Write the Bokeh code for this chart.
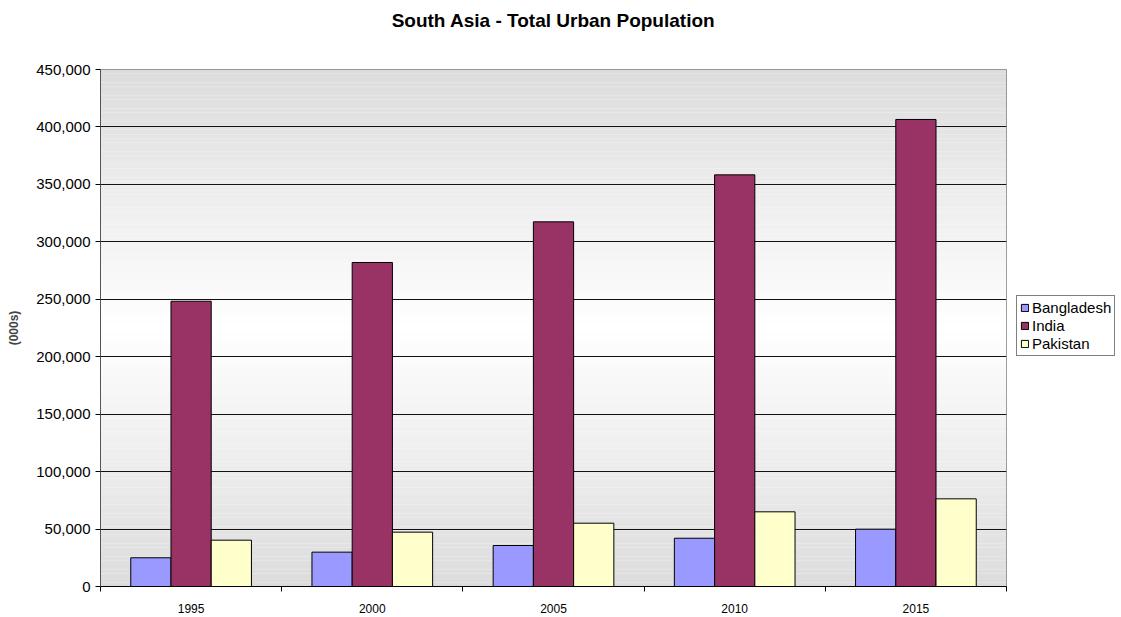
from bokeh.plotting import figure
from bokeh.models import (ColumnDataSource, Range1d, FixedTicker, NumeralTickFormatter,
                          Legend, LegendItem, Title)
from bokeh.transform import dodge
from bokeh.embed import file_html
from bokeh.resources import INLINE

years = ["1995", "2000", "2005", "2010", "2015"]
bangladesh = [25000, 29900, 35700, 42000, 49900]
india = [248300, 282000, 317400, 358300, 406500]
pakistan = [40300, 47300, 55100, 65000, 76300]
series_names = ["Bangladesh", "India", "Pakistan"]
series_colors = ["#9999FF", "#993366", "#FFFFCC"]
y_ticks = [0, 50000, 100000, 150000, 200000, 250000, 300000, 350000, 400000, 450000]

FONT = "Liberation Sans"

centers = [i + 0.5 for i in range(len(years))]
source = ColumnDataSource(dict(xc=centers, Bangladesh=bangladesh, India=india, Pakistan=pakistan))

p = figure(frame_width=906, frame_height=517, output_backend="svg", toolbar_location=None,
           x_range=Range1d(0, len(years)), y_range=Range1d(0, 450000),
           min_border_left=100, min_border_top=69, min_border_right=115,
           min_border_bottom=31, title="South Asia - Total Urban Population")

p.title.align = "center"
p.title.text_font = FONT
p.title.text_font_size = "19px"
p.title.text_font_style = "bold"
p.title.text_color = "black"
p.title.standoff = 15

# spacer between title and plot area
spacer = Title(text=" ", text_font=FONT, text_font_size="19px", standoff=8)
p.add_layout(spacer, "above")

# gradient background: gray - white - gray
n = 120
ymax = 450000
bottoms, tops, cols = [], [], []
for k in range(n):
    b = ymax * k / n
    t = ymax * (k + 1) / n
    frac = (k + 0.5) / n
    d = abs(frac - 0.5) * 2
    c = int(round(255 - 35 * d))
    bottoms.append(b)
    tops.append(t)
    cols.append("#%02x%02x%02x" % (c, c, c))
bg = p.quad(left=0, right=len(years), bottom=bottoms, top=tops, fill_color=cols, line_color=None)
bg.level = "image"

width = 0.222
offsets = [-width, 0.0, width]
renderers = []
for name, col, off in zip(series_names, series_colors, offsets):
    r = p.vbar(x=dodge("xc", off, range=p.x_range), top=name, width=width, bottom=0,
               source=source, fill_color=col, line_color="black", line_width=1)
    renderers.append(r)

# grid
p.xgrid.visible = False
p.ygrid.grid_line_color = "#111111"
p.ygrid.grid_line_width = 1
p.ygrid.ticker = FixedTicker(ticks=y_ticks)

p.outline_line_color = "#808080"
p.outline_line_width = 1
p.background_fill_color = "white"
p.border_fill_color = "white"

# y axis
p.yaxis.ticker = FixedTicker(ticks=y_ticks)
p.yaxis.formatter = NumeralTickFormatter(format="0,0")
p.yaxis.axis_label = "(000s)"
p.yaxis.axis_label_text_font = FONT
p.yaxis.axis_label_text_font_size = "12px"
p.yaxis.axis_label_text_font_style = "bold"
p.yaxis.axis_label_standoff = 12
p.yaxis.major_label_text_font = FONT
p.yaxis.major_label_text_font_size = "15px"
p.yaxis.major_label_text_color = "black"
p.yaxis.major_label_standoff = 5
p.yaxis.major_tick_out = 5
p.yaxis.major_tick_in = 0
p.yaxis.minor_tick_out = 0
p.yaxis.minor_tick_in = 0
p.yaxis.axis_line_color = "#555555"
p.yaxis.major_tick_line_color = "black"

# x axis: labels at centres, tick marks at category boundaries
p.xaxis.ticker = FixedTicker(ticks=centers, minor_ticks=list(range(len(years) + 1)))
p.xaxis.major_label_overrides = {c: y for c, y in zip(centers, years)}
p.xaxis.major_label_text_font = FONT
p.xaxis.major_label_text_font_size = "12px"
p.xaxis.major_label_text_color = "black"
p.xaxis.major_label_standoff = 12
p.xaxis.major_tick_out = 0
p.xaxis.major_tick_in = 0
p.xaxis.minor_tick_out = 5
p.xaxis.minor_tick_in = 0
p.xaxis.minor_tick_line_color = "black"
p.xaxis.axis_line_color = "black"

legend = Legend(items=[LegendItem(label=nm, renderers=[r]) for nm, r in zip(series_names, renderers)],
                location=(10, 230))
legend.label_text_font = FONT
legend.label_text_font_size = "15px"
legend.label_text_color = "black"
legend.glyph_width = 9
legend.glyph_height = 9
legend.label_standoff = 3
legend.padding = 3
legend.spacing = 1
legend.margin = 0
legend.border_line_color = "black"
legend.border_line_width = 1
legend.background_fill_color = "white"
legend.background_fill_alpha = 1
p.add_layout(legend, "right")

open("out.html", "w").write(file_html(p, INLINE))
